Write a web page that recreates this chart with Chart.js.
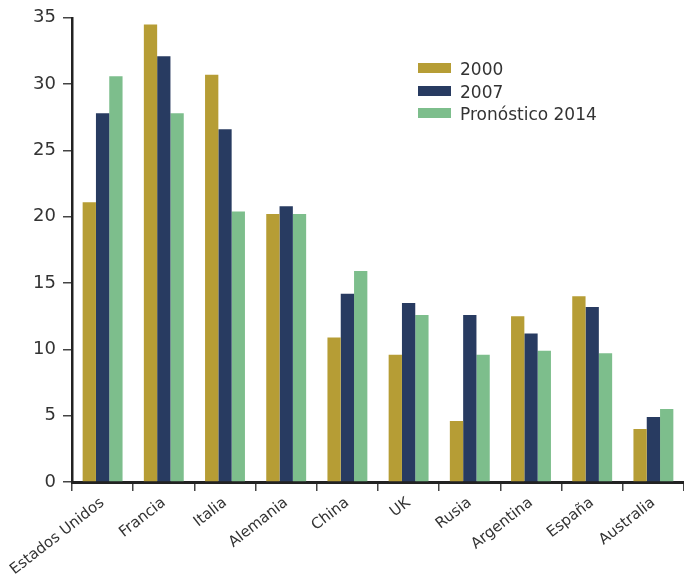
<!DOCTYPE html>
<html>
<head>
<meta charset="utf-8">
<script src="https://cdn.jsdelivr.net/npm/chart.js@4/dist/chart.umd.min.js"></script>
<style>
  html, body { margin: 0; padding: 0; background: #fff; }
  #wrap { position: relative; width: 684px; height: 577px; }
  #legend { position: absolute; left: 418px; top: 58px; font-family: 'DejaVu Sans', sans-serif; font-size: 17px; color: #333; }
  #legend div { height: 22.5px; line-height: 22px; white-space: nowrap; }
  #legend span.box { display: inline-block; width: 33px; height: 10px; margin-right: 9px; vertical-align: middle; position: relative; top: -2px; }
</style>
</head>
<body>
<div id="wrap">
  <canvas id="chartCanvas" width="684" height="577"></canvas>
  <div id="legend"></div>
</div>
<script>
  var categories = ['Estados Unidos', 'Francia', 'Italia', 'Alemania', 'China', 'UK', 'Rusia', 'Argentina', 'España', 'Australia'];
  var seriesNames = ['2000', '2007', 'Pronóstico 2014'];
  var values2000 = [21.1, 34.5, 30.7, 20.2, 10.9, 9.6, 4.6, 12.5, 14.0, 4.0];
  var values2007 = [27.8, 32.1, 26.6, 20.8, 14.2, 13.5, 12.6, 11.2, 13.2, 4.9];
  var values2014 = [30.6, 27.8, 20.4, 20.2, 15.9, 12.6, 9.6, 9.9, 9.7, 5.5];
  var yTicks = [0, 5, 10, 15, 20, 25, 30, 35];
  var colors = ['#B69D35', '#283B61', '#7DBE8C'];

  (function() {
    'use strict';

    var allValues = [values2000, values2007, values2014];
    var datasets = seriesNames.map(function(name, i) {
      return {
        label: name,
        data: allValues[i],
        backgroundColor: colors[i],
        borderWidth: 0,
        categoryPercentage: 0.652,
        barPercentage: 1.0
      };
    });

    var legend = document.getElementById('legend');
    seriesNames.forEach(function(name, i) {
      var row = document.createElement('div');
      var box = document.createElement('span');
      box.className = 'box';
      box.style.background = colors[i];
      row.appendChild(box);
      row.appendChild(document.createTextNode(name));
      legend.appendChild(row);
    });

    var ctx = document.getElementById('chartCanvas').getContext('2d');
    new Chart(ctx, {
      type: 'bar',
      data: { labels: categories, datasets: datasets },
      options: {
        responsive: false,
        animation: false,
        layout: { padding: { top: 8, right: 0, left: 0, bottom: 0 } },
        plugins: { legend: { display: false }, tooltip: { enabled: false } },
        scales: {
          x: {
            afterFit: function(axis) { axis.height = 95; },
            grid: { display: true, drawOnChartArea: false, drawTicks: true, tickLength: 9, color: '#444', lineWidth: 1.5, offset: true },
            border: { display: true, color: '#222', width: 3 },
            ticks: {
              color: '#333',
              font: { family: 'DejaVu Sans', size: 15 },
              minRotation: 38,
              maxRotation: 38,
              autoSkip: false,
              padding: 3
            }
          },
          y: {
            min: 0,
            max: 35,
            afterFit: function(axis) { axis.width = 72; },
            afterBuildTicks: function(axis) {
              axis.ticks = yTicks.map(function(v) { return { value: v }; });
            },
            grid: { drawOnChartArea: false, drawTicks: true, tickLength: 9, color: '#444', lineWidth: 1.5 },
            border: { display: true, color: '#222', width: 2.5 },
            ticks: {
              color: '#333',
              font: { family: 'DejaVu Sans', size: 18 },
              padding: 7
            }
          }
        }
      }
    });
  })();
</script>
</body>
</html>
